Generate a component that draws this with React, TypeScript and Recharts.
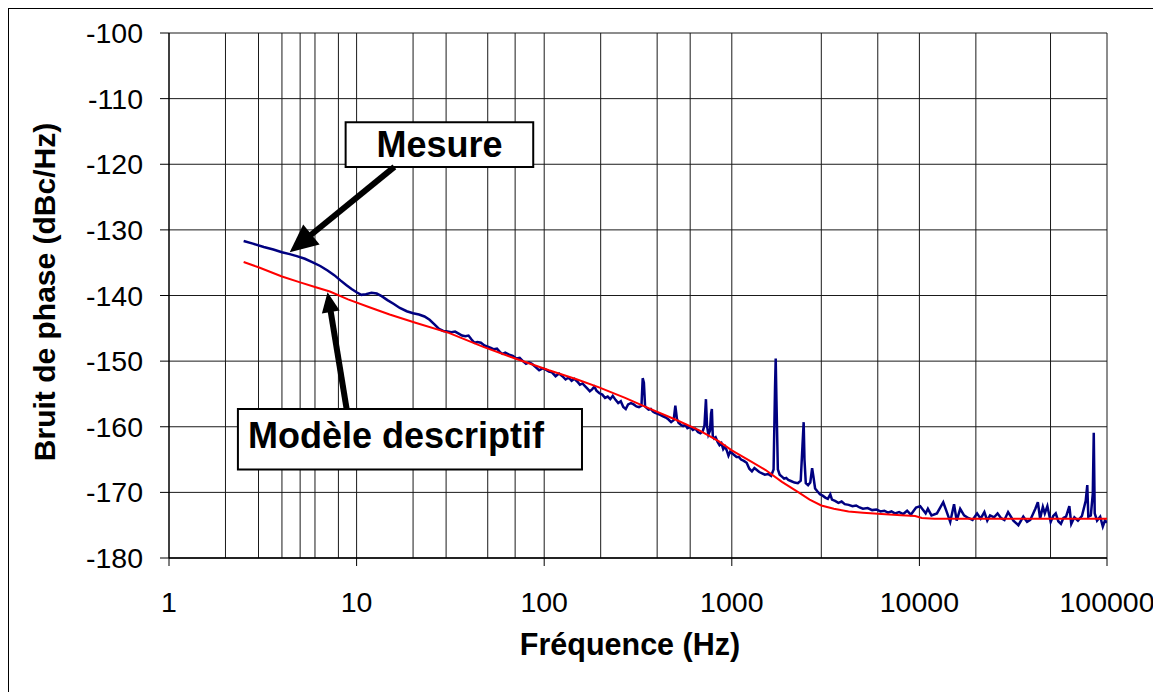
import {
  LineChart,
  Line,
  XAxis,
  YAxis,
  CartesianGrid,
  ReferenceArea,
  ReferenceLine,
} from 'recharts';

// ─── Data ────────────────────────────────────────────────────────────────────

const FONT = '"Liberation Sans", Arial, sans-serif';

const xTicks = [1, 10, 100, 1000, 10000, 100000];
const yTicks = [-180, -170, -160, -150, -140, -130, -120, -110, -100];

// minor grid: 1..9 per decade
const gridFreqs = [
  2, 3, 4, 5, 6, 7, 8, 9,
  10, 20, 30, 40, 50, 60, 70, 80, 90,
  100, 200, 300, 400, 500, 600, 700, 800, 900,
  1000, 2000, 3000, 4000, 5000, 6000, 7000, 8000, 9000,
  10000, 20000, 30000, 40000, 50000, 60000, 70000, 80000, 90000,
  100000,
];

// "Mesure" (measured phase noise)
const mesureFreq = [
  2.5, 2.8, 3.2, 3.6, 4.0, 4.4, 4.8, 5.3, 5.8, 6.4, 7.0, 7.6, 8.2, 8.8, 9.4,
  10, 10.6, 11.2, 12, 12.8, 13.6, 14.6, 15.8, 17, 18.5, 20, 21.5, 23, 24.5,
  26, 27.5, 29, 30.5, 32, 33.5, 35, 36.5, 38, 39.5, 41, 42.5, 44, 46, 48, 50,
  52, 54, 56, 58, 60, 62, 65, 68, 71, 74, 77, 80, 83, 86, 90, 94, 98, 102,
  106, 110, 115, 120, 125, 130, 135, 140, 145, 150, 155, 160, 165, 170, 175,
  180, 185, 190, 197, 204, 211, 218, 225, 232, 240, 248, 256, 264, 272, 280,
  290, 300, 310, 320, 330, 335, 340, 345, 350, 360, 370, 380, 390, 400, 415,
  430, 445, 460, 475, 490, 500, 510, 520, 535, 550, 565, 580, 600, 620, 640,
  660, 680, 700, 715, 728, 738, 750, 765, 775, 783, 792, 805, 820, 840, 860,
  880, 900, 920, 940, 960, 980, 1000, 1030, 1060, 1090, 1120, 1160, 1200,
  1240, 1280, 1320, 1360, 1400, 1450, 1500, 1560, 1620, 1670, 1700, 1714,
  1730, 1760, 1800, 1850, 1900, 1950, 2000, 2080, 2160, 2250, 2330, 2380,
  2416, 2440, 2480, 2550, 2620, 2680, 2720, 2780, 2850, 2950, 3050, 3150,
  3250, 3350, 3420, 3550, 3700, 3850, 4000, 4200, 4400, 4600, 4800, 5000,
  5300, 5600, 5900, 6200, 6500, 6800, 7100, 7400, 7800, 8200, 8600, 9000,
  9600, 10100, 10800, 11100, 11600, 12400, 13400, 14000, 14600, 15300, 15800,
  16500, 17300, 18200, 19200, 20300, 21200, 22200, 23000, 23800, 25000,
  26100, 27200, 28400, 29700, 31700, 33700, 35800, 37500, 39000, 41500,
  42800, 44000, 45500, 46600, 48100, 50100, 51700, 53300, 55000, 56800,
  58600, 60500, 63000, 64500, 67000, 70000, 73500, 77000, 78500, 79500,
  82000, 84000, 85000, 86000, 88500, 92000, 95000, 97500, 100000,
];
const mesureDb = [
  -131.7, -132.1, -132.6, -133.0, -133.4, -133.7, -134.0, -134.4, -134.9,
  -135.5, -136.2, -136.9, -137.7, -138.4, -139.0, -139.5, -139.9, -139.8,
  -139.6, -139.7, -140.1, -140.7, -141.3, -141.9, -142.4, -142.7, -142.9,
  -143.2, -143.7, -144.4, -145.1, -145.4, -145.5, -145.6, -145.5, -145.8,
  -146.1, -146.2, -146.1, -146.7, -147.2, -147.1, -147.2, -147.6, -147.8,
  -148.0, -148.2, -148.1, -148.6, -148.9, -148.7, -149.0, -149.2, -149.6,
  -149.5, -150.0, -150.4, -150.2, -150.4, -150.9, -151.4, -151.1, -151.3,
  -151.6, -151.7, -152.3, -151.9, -152.3, -152.8, -152.5, -153.0, -152.7,
  -153.1, -153.6, -153.4, -153.8, -154.2, -154.6, -154.3, -153.9, -154.5,
  -154.9, -155.1, -155.6, -155.4, -155.8, -155.3, -155.9, -156.4, -156.1,
  -157.0, -157.3, -156.6, -156.4, -156.6, -156.9, -157.0, -156.8, -152.6,
  -153.3, -156.9, -157.1, -157.4, -157.3, -157.7, -157.9, -158.0, -158.2,
  -158.4, -158.6, -158.9, -159.3, -159.0, -156.8, -158.8, -159.4, -159.7,
  -159.9, -159.7, -160.2, -160.0, -160.5, -160.3, -160.8, -161.0, -160.7,
  -159.8, -155.8, -159.9, -161.2, -160.6, -158.0, -157.3, -161.5, -161.8,
  -161.6, -162.3, -162.8, -162.5, -163.4, -163.0, -163.6, -164.4, -163.8,
  -164.0, -164.3, -164.6, -164.6, -165.0, -165.2, -165.5, -166.4, -166.8,
  -166.3, -166.6, -166.9, -167.1, -167.3, -167.2, -167.5, -166.5, -154.0,
  -149.6, -156.0, -166.5, -167.3, -167.6, -167.9, -167.8, -168.1, -168.3,
  -168.5, -168.6, -168.2, -163.0, -159.3, -165.0, -168.6, -168.9, -168.5,
  -166.3, -167.5, -169.4, -169.8, -170.3, -170.5, -170.8, -171.0, -170.3,
  -171.1, -171.3, -171.6, -171.4, -171.8, -171.9, -172.1, -172.0, -172.3,
  -172.5, -172.4, -172.7, -172.6, -172.9, -172.8, -173.1, -172.9, -173.2,
  -173.0, -173.3, -172.8, -173.4, -172.3, -172.1, -173.2, -172.5, -173.5,
  -173.2, -171.5, -173.0, -174.5, -171.8, -174.3, -172.5, -173.5, -173.9,
  -174.2, -173.2, -174.0, -173.0, -174.3, -173.5, -173.8, -173.2, -173.9,
  -174.2, -173.0, -174.3, -175.0, -173.7, -174.5, -174.2, -172.5, -171.5,
  -174.0, -172.2, -173.2, -172.1, -174.5, -173.6, -173.2, -174.4, -174.8,
  -173.9, -173.7, -172.1, -174.8, -173.8, -174.3, -173.6, -171.3, -168.9,
  -173.7, -173.5, -170.2, -160.9, -173.2, -174.3, -173.7, -175.2, -174.3,
  -174.6,
];

// "Modèle descriptif"
const modeleFreq = [
  2.5, 3, 4, 5, 6, 7.2, 9, 11.7, 15, 20.8, 31, 47, 70, 106, 150, 196, 270,
  362, 500, 667, 850, 1000, 1250, 1515, 1850, 2270, 2600, 3000, 3500, 4190,
  5000, 6280, 8000, 9500, 10300, 12000, 20000, 40000, 60000, 100000,
];
const modeleDb = [
  -134.9, -135.7, -137.1, -138.0, -138.7, -139.4, -140.6, -141.8, -142.9,
  -144.2, -145.7, -147.8, -149.6, -151.4, -152.8, -154.0, -155.6, -157.2,
  -158.9, -160.5, -162.2, -163.6, -165.2, -166.6, -168.4, -170.0, -171.1,
  -172.0, -172.5, -172.9, -173.1, -173.3, -173.5, -173.6, -173.9, -174.0,
  -174.0, -174.0, -174.0, -174.0,
];

const mesureData = mesureFreq.map((f, i) => ({ f, db: mesureDb[i] }));
const modeleData = modeleFreq.map((f, i) => ({ f, db: modeleDb[i] }));

// ─── Arrow shape for annotation segments ─────────────────────────────────────

function arrowShape(headLen: number, headHalf: number, width: number) {
  return (p: any) => {
    const { x1, y1, x2, y2 } = p;
    const dx = x2 - x1;
    const dy = y2 - y1;
    const len = Math.sqrt(dx * dx + dy * dy) || 1;
    const ux = dx / len;
    const uy = dy / len;
    const bx = x2 - ux * headLen;
    const by = y2 - uy * headLen;
    const pts = [
      `${x2},${y2}`,
      `${bx - uy * headHalf},${by + ux * headHalf}`,
      `${bx + uy * headHalf},${by - ux * headHalf}`,
    ].join(' ');
    return (
      <g>
        <line x1={x1} y1={y1} x2={bx + ux * 2} y2={by + uy * 2} stroke="#000" strokeWidth={width} />
        <polygon points={pts} fill="#000" />
      </g>
    );
  };
}

// ─── Component ───────────────────────────────────────────────────────────────

export default function App() {
  return (
    <div
      style={{
        position: 'relative',
        width: 1153,
        height: 684,
        borderLeft: '1px solid #000',
        borderTop: '1px solid #000',
        boxSizing: 'border-box',
        fontFamily: FONT,
        background: '#fff',
      }}
    >
      <LineChart
        width={1152}
        height={683}
        margin={{ top: 24, right: 54, bottom: 74, left: 0 }}
        style={{ overflow: 'visible' }}
      >
        <CartesianGrid
          stroke="#1a1a1a"
          strokeWidth={1}
          verticalValues={gridFreqs}
        />
        <XAxis
          dataKey="f"
          type="number"
          scale="log"
          domain={[1, 100000]}
          ticks={xTicks}
          allowDataOverflow
          height={60}
          tickSize={8}
          tickMargin={26}
          axisLine={{ stroke: '#000', strokeWidth: 1.5 }}
          tickLine={{ stroke: '#000' }}
          tick={{ fill: '#000', fontSize: 28.5, fontFamily: FONT }}
        />
        <YAxis
          type="number"
          domain={[-180, -100]}
          ticks={yTicks}
          width={160}
          tickSize={9}
          tickMargin={17}
          axisLine={{ stroke: '#000', strokeWidth: 1.5 }}
          tickLine={{ stroke: '#000' }}
          tick={{ fill: '#000', fontSize: 28.5, fontFamily: FONT }}
        />
        <Line
          data={mesureData}
          dataKey="db"
          type="linear"
          stroke="#000080"
          strokeWidth={2.5}
          dot={false}
          activeDot={false}
          isAnimationActive={false}
        />
        <Line
          data={modeleData}
          dataKey="db"
          type="linear"
          stroke="#FF0000"
          strokeWidth={2}
          dot={false}
          activeDot={false}
          isAnimationActive={false}
        />
        <ReferenceLine
          segment={[
            { x: 15.9, y: -120.4 },
            { x: 4.4, y: -133.4 },
          ]}
          shape={arrowShape(28, 13, 6)}
        />
        <ReferenceLine
          segment={[
            { x: 8.85, y: -157.3 },
            { x: 7.0, y: -139.5 },
          ]}
          shape={arrowShape(20, 9, 6)}
        />
        <ReferenceArea
          x1={8.74}
          x2={87.4}
          y1={-113.6}
          y2={-120.4}
          fill="#fff"
          fillOpacity={1}
          stroke="#000"
          strokeWidth={2}
          label={{
            value: 'Mesure',
            position: 'center',
            fill: '#000',
            fontSize: 36,
            fontWeight: 700,
            fontFamily: FONT,
          }}
        />
        <ReferenceArea
          x1={2.33}
          x2={159}
          y1={-157.3}
          y2={-166.5}
          fill="#fff"
          fillOpacity={1}
          stroke="#000"
          strokeWidth={2}
          label={{
            value: 'Modèle descriptif',
            position: 'insideLeft',
            offset: 10,
            fill: '#000',
            fontSize: 36,
            fontWeight: 700,
            fontFamily: FONT,
            dy: -4,
          }}
        />
      </LineChart>
      <div
        style={{
          position: 'absolute',
          left: 421,
          width: 400,
          top: 620,
          fontSize: 30.5,
          lineHeight: '30px',
          fontWeight: 700,
          textAlign: 'center',
          color: '#000',
        }}
      >
        Fréquence (Hz)
      </div>
      <div
        style={{
          position: 'absolute',
          left: -164,
          top: 268,
          width: 400,
          height: 30,
          fontSize: 30,
          lineHeight: '30px',
          fontWeight: 700,
          textAlign: 'center',
          color: '#000',
          transform: 'rotate(-90deg)',
          whiteSpace: 'nowrap',
        }}
      >
        Bruit de phase (dBc/Hz)
      </div>
    </div>
  );
}
